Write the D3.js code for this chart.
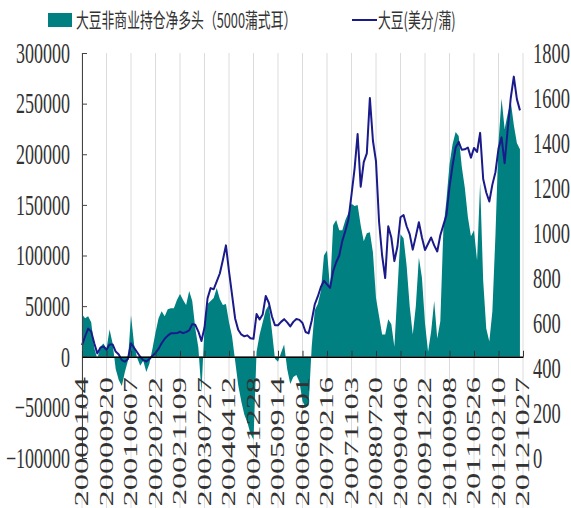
<!DOCTYPE html>
<html>
<head>
<meta charset="utf-8">
<script src="https://cdn.jsdelivr.net/npm/d3@7"></script>
<style>
  body { margin: 0; background: #fff; }
  svg { display: block; }
</style>
</head>
<body>
<svg></svg>
<script>
// tick labels on the date axis
var dateLabels = ["20000104", "20000920", "20010607", "20020222", "20021109", "20030727",
  "20040412", "20041228", "20050914", "20060601", "20070216", "20071103", "20080720",
  "20090406", "20091222", "20100908", "20110526", "20120210", "20121027"];

// readings taken 8 times per date-label interval
var perLabel = 8;

// net non-commercial long, in thousand contracts
var netLong = [42, 38, 40, 34, 9, -2, 10, 13, 8, 27,
  13, -12, -23, -29, -15, -4, 41, 12, -1, -9,
  -4, -15, -7, 8, 24, 38, 45, 40, 47, 48,
  48, 56, 62, 56, 51, 65, 55, 28, 9, -35,
  30, 52, 55, 58, 68, 57, 51, 52, 34, 20,
  -4, -28, -44, -57, -65, -76, -82, 5, 22, 34,
  46, 51, 26, -2, -5, 4, 12, -12, -27, -20,
  -18, -25, -44, -50, -48, 10, 46, 52, 65, 100,
  105, 67, 130, 135, 125, 125, 135, 142, 151, 149,
  150, 130, 114, 122, 123, 103, 58, 40, 22, 22,
  37, 32, 10, 65, 121, 117, 90, 50, 22, 50,
  98, 78, 33, 5, 25, 55, 18, 35, 126, 155,
  190, 210, 222, 218, 188, 167, 138, 119, 125, 95,
  172, 75, 28, 15, 45, 120, 212, 255, 225, 240,
  252, 229, 211, 205];

// soybean price, cents per bushel
var price = [502, 540, 575, 562, 510, 465, 490, 496, 481, 505,
  505, 473, 460, 435, 428, 440, 510, 490, 470, 450,
  435, 429, 440, 454, 467, 485, 510, 530, 544, 554,
  554, 555, 561, 555, 560, 567, 595, 592, 562, 520,
  580, 710, 755, 750, 785, 820, 880, 945, 830, 725,
  620, 570, 549, 541, 545, 532, 530, 640, 616, 638,
  720, 690, 630, 590, 590, 605, 617, 603, 585, 605,
  618, 614, 600, 560, 554, 610, 683, 718, 760, 788,
  772, 756, 830, 870, 900, 965, 1010, 1060, 1170, 1285,
  1440, 1206, 1315, 1354, 1600, 1410, 1318, 1050, 900, 800,
  1030, 980, 875, 940, 1070, 1080, 1030, 995, 926, 985,
  1048, 980, 924, 952, 980, 945, 918, 990, 1035, 1080,
  1205, 1300, 1380, 1405, 1370, 1372, 1380, 1335, 1378, 1360,
  1445, 1240, 1180, 1140, 1215, 1270, 1375, 1425, 1310, 1460,
  1600, 1695, 1595, 1545];

var leftTicks = [-100000, -50000, 0, 50000, 100000, 150000, 200000, 250000, 300000];
var rightTicks = [0, 200, 400, 600, 800, 1000, 1200, 1400, 1600, 1800];

var seriesNames = ["大豆非商业持仓净多头（5000蒲式耳）", "大豆(美分/蒲)"];

var width = 571, height = 508;
var plotLeft = 82, plotRight = 523, plotTop = 53, plotBottom = 458;
var teal = "#008080", navy = "#1a1a8a";
var numFont = "'Liberation Serif', 'Times New Roman', serif";
var cjkFont = "'Noto Sans CJK SC', sans-serif";

var svg = d3.select("svg")
    .attr("width", width)
    .attr("height", height);

var x = d3.scaleLinear().domain([0, dateLabels.length - 1]).range([plotLeft, plotRight]);
var yLeft = d3.scaleLinear().domain([-100000, 300000]).range([plotBottom, plotTop]);
var yRight = d3.scaleLinear().domain([0, 1800]).range([plotBottom, plotTop]);

// vertical grid lines, one per date label
svg.append("g").selectAll("line")
    .data(dateLabels)
    .enter()
    .append("line")
    .attr("x1", function(d, i) { return x(i); })
    .attr("x2", function(d, i) { return x(i); })
    .attr("y1", plotTop)
    .attr("y2", height)
    .attr("stroke", "#dcdcdc")
    .attr("stroke-width", 1);

// net long area
var area = d3.area()
    .x(function(d, i) { return x(i / perLabel); })
    .y0(yLeft(0))
    .y1(function(d) { return yLeft(d * 1000); });

svg.append("path")
    .datum(netLong)
    .attr("d", area)
    .attr("fill", teal);

// price line
var line = d3.line()
    .x(function(d, i) { return x(i / perLabel); })
    .y(function(d) { return yRight(d); });

svg.append("path")
    .datum(price)
    .attr("d", line)
    .attr("fill", "none")
    .attr("stroke", navy)
    .attr("stroke-width", 2)
    .attr("stroke-linejoin", "round");

// left axis: line and inward ticks
var leftAxis = svg.append("g")
    .attr("transform", "translate(" + plotLeft + ",0)")
    .call(d3.axisLeft(yLeft).tickValues(leftTicks).tickSizeInner(-5).tickSizeOuter(0).tickFormat(""));
leftAxis.selectAll("path, line").attr("stroke", "#444");

// zero line with the date ticks
var zeroAxis = svg.append("g")
    .attr("transform", "translate(0," + yLeft(0) + ")")
    .call(d3.axisBottom(x).tickValues(d3.range(dateLabels.length)).tickSizeInner(-6).tickSizeOuter(0).tickFormat(""));
zeroAxis.select(".domain").attr("stroke", "#000").attr("stroke-width", 1.5);
zeroAxis.selectAll(".tick line").attr("stroke", "#333");

// left tick labels (text is stretched tall in the source)
svg.append("g").selectAll("text")
    .data(leftTicks)
    .enter()
    .append("text")
    .attr("transform", function(d) { return "translate(70," + yLeft(d) + ") scale(1,1.6)"; })
    .attr("dy", "0.34em")
    .attr("text-anchor", "end")
    .attr("font-family", numFont)
    .attr("font-size", 18)
    .attr("fill", "#333")
    .text(function(d) { return String(d).replace("-", "\u2212"); });

// right tick labels
svg.append("g").selectAll("text")
    .data(rightTicks)
    .enter()
    .append("text")
    .attr("transform", function(d) { return "translate(533," + yRight(d) + ") scale(1,1.6)"; })
    .attr("dy", "0.34em")
    .attr("font-family", numFont)
    .attr("font-size", 18.5)
    .attr("fill", "#333")
    .text(function(d) { return d; });

// date labels, vertical
svg.append("g").selectAll("text")
    .data(dateLabels)
    .enter()
    .append("text")
    .attr("transform", function(d, i) { return "translate(" + x(i) + ",377) scale(1,1.8) rotate(-90)"; })
    .attr("dy", "0.34em")
    .attr("text-anchor", "end")
    .attr("font-family", numFont)
    .attr("font-size", 18)
    .attr("fill", "#333")
    .text(function(d) { return d; });

// legend
var legend = svg.append("g");
legend.append("rect")
    .attr("x", 48).attr("y", 13)
    .attr("width", 24).attr("height", 14)
    .attr("fill", teal);
legend.append("line")
    .attr("x1", 352).attr("x2", 377)
    .attr("y1", 20).attr("y2", 20)
    .attr("stroke", navy)
    .attr("stroke-width", 2);
legend.selectAll("text")
    .data(seriesNames)
    .enter()
    .append("text")
    .attr("transform", function(d, i) { return "translate(" + (i === 0 ? 76 : 378) + ",21) scale(1,1.6)"; })
    .attr("dy", "0.36em")
    .attr("font-family", cjkFont)
    .attr("font-size", 12.8)
    .attr("fill", "#333")
    .text(function(d) { return d; });
</script>
</body>
</html>
